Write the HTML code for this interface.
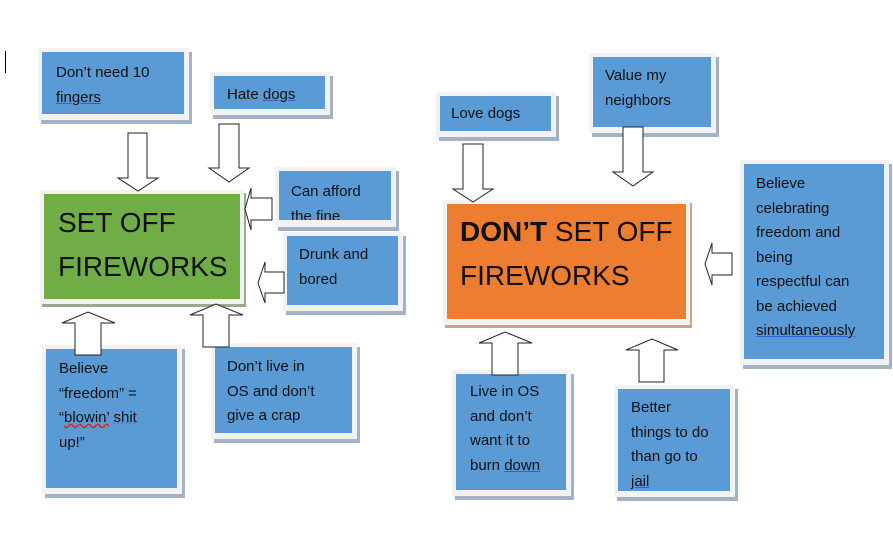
<!DOCTYPE html>
<html><head><meta charset="utf-8">
<style>
body{margin:0;width:893px;height:541px;background:#fff;position:relative;overflow:hidden;font-family:"Liberation Sans",sans-serif;}
.o{position:absolute;background:#f2f2f2;box-shadow:3px 4px 0 #a3b2c6;}
.i{position:absolute;left:4px;top:4px;right:5px;bottom:6px;background:#5b9bd5;color:#111;font-size:15px;line-height:24.5px;overflow:hidden;}
.u{text-decoration:underline;text-decoration-color:#2f5fdc;}
.big{font-size:28px;line-height:44px;color:#111;}
svg{position:absolute;left:0;top:0;}
</style></head><body>
<div style="position:absolute;left:5px;top:51px;width:1px;height:22px;background:#000"></div>

<div class="o" style="left:38px;top:48px;width:151px;height:72px"><div class="i" style="padding:9px 0 0 14px">Don’t need 10<br><span class="u">fingers</span></div></div>
<div class="o" style="left:210px;top:72px;width:120px;height:43px"><div class="i" style="padding:7px 0 0 13px">Hate <span class="u">dogs</span></div></div>
<div class="o" style="left:40px;top:190px;width:204px;height:114px;box-shadow:2px 3px 0 #9aaa8e"><div class="i" style="right:4px;bottom:5px;background:#70ad47;padding:7px 0 0 14px"><div class="big">SET OFF<br>FIREWORKS</div></div></div>
<div class="o" style="left:275px;top:167px;width:121px;height:60px"><div class="i" style="padding:9px 0 0 12px;bottom:7px">Can afford<br>the fine</div></div>
<div class="o" style="left:283px;top:232px;width:120px;height:79px"><div class="i" style="padding:7px 0 0 12px">Drunk and<br>bored</div></div>
<div class="o" style="left:42px;top:345px;width:140px;height:149px"><div class="i" style="padding:8px 0 0 13px">Believe<br>“freedom” =<br>“<span style="text-decoration:underline wavy #e02020">blowin’</span> <span style="text-decoration:underline dotted #7a5cf0">shit</span><br>up!”</div></div>
<div class="o" style="left:211px;top:343px;width:146px;height:96px"><div class="i" style="padding:8px 0 0 12px">Don’t live in<br>OS and don’t<br>give a crap</div></div>

<div class="o" style="left:436px;top:92px;width:120px;height:45px"><div class="i" style="padding:6px 0 0 11px">Love dogs</div></div>
<div class="o" style="left:589px;top:53px;width:127px;height:80px"><div class="i" style="padding:7px 0 0 12px">Value my<br>neighbors</div></div>
<div class="o" style="left:443px;top:200px;width:247px;height:125px;box-shadow:2px 3px 0 #c9a58f"><div class="i" style="right:4px;bottom:6px;background:#ed7d31;padding:6px 0 0 13px"><div class="big"><b>DON’T</b> SET OFF<br>FIREWORKS</div></div></div>
<div class="o" style="left:740px;top:160px;width:149px;height:205px"><div class="i" style="padding:8px 0 0 12px">Believe<br>celebrating<br>freedom and<br>being<br>respectful can<br>be achieved<br><span class="u">simultaneously</span></div></div>
<div class="o" style="left:452px;top:370px;width:119px;height:126px"><div class="i" style="padding:6px 0 0 14px">Live in OS<br>and don’t<br>want it to<br>burn <span class="u">down</span></div></div>
<div class="o" style="left:614px;top:385px;width:121px;height:112px"><div class="i" style="padding:7px 0 0 13px">Better<br>things to do<br>than go to<br><span class="u">jail</span></div></div>

<svg width="893" height="541" fill="#fff" stroke="#222" stroke-width="1">
<polygon points="128,133 147,133 147,178 158,178 138,191 118,178 128,178"/>
<polygon points="219,124 239,124 239,168 249,168 229,182 209,168 219,168"/>
<polygon points="463,144 483,144 483,189 493,189 473,202 453,189 463,189"/>
<polygon points="623,127 643,127 643,172 653,172 633,186 613,172 623,172"/>
<polygon points="272,198 272,220 251,220 251,230 245,209 251,188 251,198"/>
<polygon points="284,272 284,293 265,293 265,303 258,283 265,262 265,272"/>
<polygon points="732,253 732,275 712,275 712,285 705,264 712,243 712,253"/>
<polygon points="75,355 101,355 101,323 115,323 88,312 62,323 75,323"/>
<polygon points="203,347 229,347 229,315 243,315 216,304 190,315 203,315"/>
<polygon points="492,375 518,375 518,343 532,343 505,332 479,343 492,343"/>
<polygon points="639,382 664,382 664,350 678,350 652,339 626,350 639,350"/>
</svg>
</body></html>
